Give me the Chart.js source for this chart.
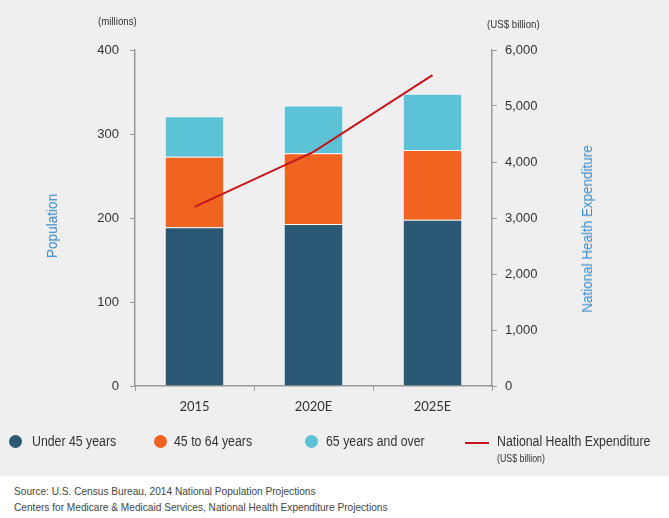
<!DOCTYPE html>
<html>
<head>
<meta charset="utf-8">
<script src="https://cdn.jsdelivr.net/npm/chart.js@4/dist/chart.umd.min.js"></script>
<style>
  html, body { margin:0; padding:0; background:#ffffff; }
  #wrap { position:relative; width:669px; height:518px; overflow:hidden; }
  #panel { position:absolute; left:0; top:0; width:669px; height:476px; background:#efefef; }
  #cv { position:absolute; left:0; top:0; }
  .t { position:absolute; font-family:"Liberation Sans",Arial,sans-serif; color:#333; white-space:nowrap; transform-origin:0 50%; }
  .n { transform:scaleX(0.88); }
  .ttl { color:#3d8cc8; font-size:14px; }
  .dot { position:absolute; width:13px; height:13px; border-radius:50%; }
</style>
</head>
<body>
<div id="wrap">
  <div id="panel"></div>
  <canvas id="cv" width="669" height="476"></canvas>
  <div class="t n" style="left:98px; top:15px; font-size:11px;">(millions)</div>
  <div class="t n" style="left:487px; top:18px; font-size:11px;">(US$ billion)</div>
  <div class="t ttl" style="left:52px; top:226px; transform-origin:50% 50%; transform:translate(-50%,-50%) rotate(-90deg) scaleX(0.97);">Population</div>
  <div class="t ttl" style="left:587px; top:229px; transform-origin:50% 50%; transform:translate(-50%,-50%) rotate(-90deg) scaleX(0.96);">National Health Expenditure</div>

  <div class="dot" style="left:9px; top:435px; background:#2b5872;"></div>
  <div class="t n" style="left:32px; top:433px; font-size:14px;">Under 45 years</div>
  <div class="dot" style="left:154px; top:435px; background:#f06321;"></div>
  <div class="t n" style="left:174px; top:433px; font-size:14px;">45 to 64 years</div>
  <div class="dot" style="left:305px; top:435px; background:#5bc3d5;"></div>
  <div class="t n" style="left:326px; top:433px; font-size:14px;">65 years and over</div>
  <div style="position:absolute; left:465px; top:442px; width:24px; height:2px; background:#c4161c;"></div>
  <div class="t n" style="left:497px; top:433px; font-size:14px;">National Health Expenditure</div>
  <div class="t n" style="left:497px; top:453px; font-size:10px;">(US$ billion)</div>

  <div class="t" style="left:14px; top:485px; font-size:11px; color:#444; transform:scaleX(0.92);">Source: U.S. Census Bureau, 2014 National Population Projections</div>
  <div class="t" style="left:14px; top:501px; font-size:11px; color:#444; transform:scaleX(0.92);">Centers for Medicare &amp; Medicaid Services, National Health Expenditure Projections</div>
</div>
<script>
const categories = ["2015", "2020E", "2025E"];
const under45 = [189, 193, 198];
const age45to64 = [84, 84, 83];
const age65plus = [48, 57, 67];
const healthExpenditure = [3200, 4180, 5550];
const popTicks = [0, 100, 200, 300, 400];
const nheTicks = [0, 1000, 2000, 3000, 4000, 5000, 6000];

const tickFont = { family: '"Liberation Sans",Arial,sans-serif', size: 13 };
const axisGrey = '#9a9a9a';

new Chart(document.getElementById('cv'), {
  type: 'bar',
  data: {
    labels: categories,
    datasets: [
      { type: 'line', label: 'National Health Expenditure', data: healthExpenditure, yAxisID: 'y2',
        borderColor: '#c4161c', borderWidth: 2, pointRadius: 0, tension: 0, fill: false, order: 0 },
      { label: 'Under 45 years', data: under45, backgroundColor: '#2b5872', borderColor: 'rgba(255,255,255,0.5)', borderWidth: 1, yAxisID: 'y', order: 1 },
      { label: '45 to 64 years', data: age45to64, backgroundColor: '#f06321', borderColor: 'rgba(255,255,255,0.5)', borderWidth: 1, yAxisID: 'y', order: 1 },
      { label: '65 years and over', data: age65plus, backgroundColor: '#5bc3d5', borderColor: 'rgba(255,255,255,0.5)', borderWidth: 1, yAxisID: 'y', order: 1 }
    ]
  },
  options: {
    responsive: false,
    animation: false,
    layout: { padding: { left: 0, right: 0, top: 50, bottom: 0 } },
    plugins: { legend: { display: false }, tooltip: { enabled: false } },
    datasets: { bar: { categoryPercentage: 1, barPercentage: 0.5 } },
    scales: {
      x: {
        stacked: true,
        grid: { drawOnChartArea: false, drawTicks: true, tickLength: 5, color: axisGrey, offset: true },
        border: { display: true, color: axisGrey, width: 1.5 },
        ticks: { color: '#333', font: { family: 'Lato, "Open Sans", sans-serif', size: 13 }, padding: 8 },
        afterFit: s => { s.height = 90; }
      },
      y: {
        stacked: true, position: 'left', min: 0, max: 400,
        afterBuildTicks: s => { s.ticks = popTicks.map(v => ({ value: v })); },
        grid: { drawOnChartArea: false, drawTicks: true, tickLength: 5, color: axisGrey },
        border: { display: true, color: axisGrey, width: 1.5 },
        ticks: { color: '#333', font: tickFont, padding: 11 },
        afterFit: s => { s.width = 135; }
      },
      y2: {
        position: 'right', min: 0, max: 6000,
        afterBuildTicks: s => { s.ticks = nheTicks.map(v => ({ value: v })); },
        grid: { drawOnChartArea: false, drawTicks: true, tickLength: 5, color: axisGrey },
        border: { display: true, color: axisGrey, width: 1.5 },
        ticks: { color: '#333', font: tickFont, padding: 8, callback: v => v.toLocaleString('en-US') },
        afterFit: s => { s.width = 177; }
      }
    }
  }
});
</script>
</body>
</html>
